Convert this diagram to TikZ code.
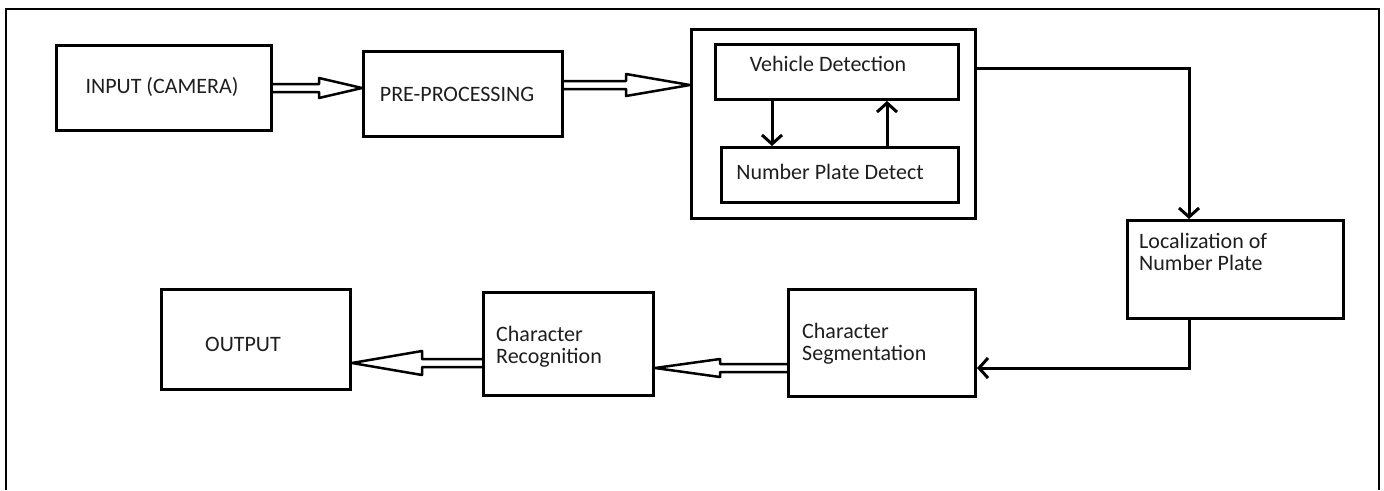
\documentclass[tikz,border=0pt]{standalone}
\usepackage{fontspec}
\setmainfont{Carlito}
\usetikzlibrary{arrows.meta,calc}
\definecolor{txtc}{RGB}{30,30,30}
\tikzset{
  box/.style={draw=black, line width=3pt, rectangle, inner sep=0pt, anchor=north west},
  lbl/.style={inner sep=0pt, text=txtc, font=\fontsize{22}{22}\selectfont},
  mlbl/.style={lbl, align=left, anchor=west},
  conn/.style={draw=black, line width=3pt, -{Straight Barb[length=9pt,width=20pt,line width=3pt]}},
  dblline/.style={draw=black, line width=2.5pt, line join=round},
  frame/.style={draw=black, line width=2pt}
}
\newcommand\dblarrow[4]{%
  \draw[dblline] let \p1=(#1), \p2=(#2) in
    (\x1,{\y1+4pt}) -- ({\x2-(#3)},{\y1+4pt}) -- ({\x2-(#3)},{\y1+#4}) -- (\x2,\y1)
    -- ({\x2-(#3)},{\y1-#4}) -- ({\x2-(#3)},{\y1-4pt}) -- (\x1,{\y1-4pt});%
}
\begin{document}
\begin{tikzpicture}[x=1pt,y=-1pt]
\useasboundingbox (0,0) rectangle (1384,490);
\draw[frame] (6,490) -- (6,9) -- (1379,9) -- (1379,490);

% boxes
\node[box, minimum width=215pt, minimum height=85pt] (input) at (55,44) {};
\node[box, minimum width=199pt, minimum height=85pt] (pre) at (362,50) {};
\node[box, minimum width=284pt, minimum height=189pt] (group) at (690,28) {};
\node[box, minimum width=243pt, minimum height=55pt] (veh) at (714,43) {};
\node[box, minimum width=237pt, minimum height=55pt] (npd) at (720,146) {};
\node[box, minimum width=216pt, minimum height=98pt] (loc) at (1126,219) {};
\node[box, minimum width=187pt, minimum height=107pt] (seg) at (787,288) {};
\node[box, minimum width=170pt, minimum height=103pt] (rec) at (482,291) {};
\node[box, minimum width=189pt, minimum height=100pt] (out) at (160,288) {};

% texts
\node[lbl] (inputT) at (162,87) {INPUT (CAMERA)};
\node[lbl] (preT) at (457,94) {PRE-PROCESSING};
\node[lbl] (vehT) at (828,64) {Vehicle Detection};
\node[lbl] (npdT) at (830,172) {Number Plate Detect};
\node[mlbl] (locT) at (1139,252) {Localization of\\Number Plate};
\node[lbl] (outT) at (243,344) {OUTPUT};
\node[mlbl] (recT) at (496,347) {Character\\Recognition};
\node[mlbl] (segT) at (802,344) {Character\\Segmentation};

% double (hollow) arrows
\coordinate (a1) at ($(input.east)+(0,0)$);
\coordinate (b1) at (a1 -| pre.west);
\dblarrow{a1}{b1}{43pt}{10pt}
\coordinate (a2) at ($(pre.east)+(0,-9)$);
\coordinate (b2) at (a2 -| group.west);
\dblarrow{a2}{b2}{64pt}{11pt}
\coordinate (a3) at ($(seg.west)+(0,25)$);
\coordinate (b3) at (a3 -| rec.east);
\dblarrow{a3}{b3}{-65pt}{9pt}
\coordinate (a4) at ($(rec.west)+(0,19)$);
\coordinate (b4) at (a4 -| out.east);
\dblarrow{a4}{b4}{-70pt}{12pt}

% single arrows
\coordinate (d1) at (772,0);
\coordinate (u1) at (887,0);
\draw[conn] (veh.south -| d1) -- (npd.north -| d1);
\draw[conn] (npd.north -| u1) -- (veh.south -| u1);
\coordinate (c1) at (1189,68);
\draw[conn] (c1 -| group.east) -- (c1) -- (c1 |- loc.north);
\coordinate (c2) at (1189,368);
\draw[conn] (loc.south -| c2) -- (c2) -- (c2 -| seg.east);
\end{tikzpicture}
\end{document}
